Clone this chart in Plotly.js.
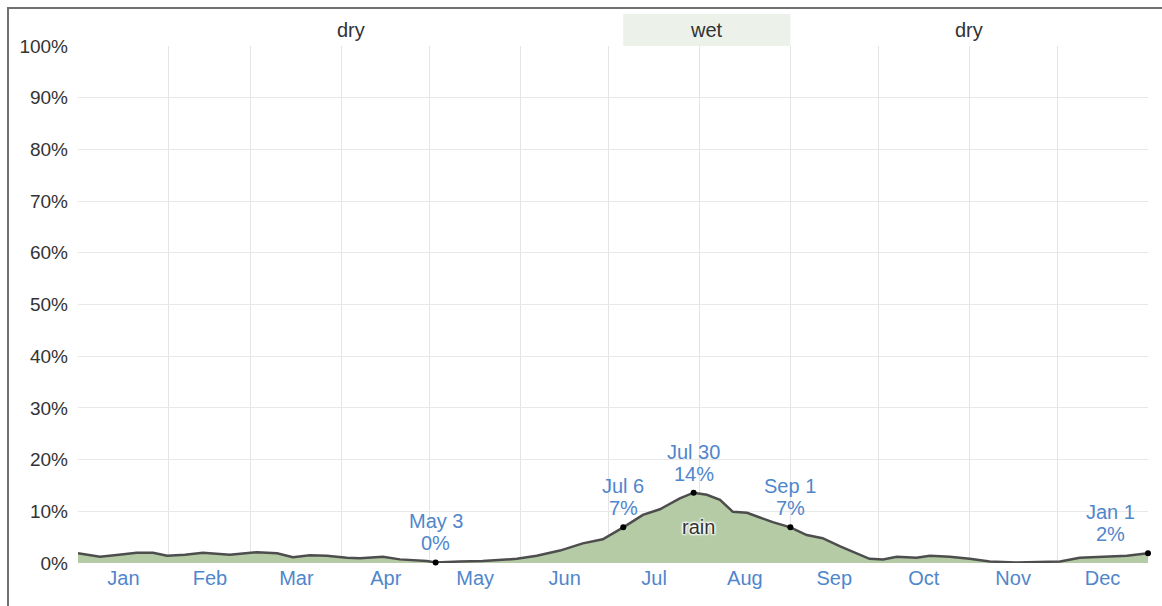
<!DOCTYPE html>
<html>
<head>
<meta charset="utf-8">
<script src="https://cdn.plot.ly/plotly-3.0.1.min.js"></script>
<style>
  html, body { margin: 0; padding: 0; background: #fff; }
  #wrap { position: relative; width: 1162px; height: 606px; }
  #chart { width: 1162px; height: 606px; }
  #frame { position: absolute; left: 7px; top: 7px; width: 1155px; height: 599px;
           border-left: 2px solid #707070; border-top: 2px solid #707070;
           box-sizing: border-box; pointer-events: none; }
</style>
</head>
<body>
<div id="wrap">
  <div id="chart"></div>
  <div id="frame"></div>
</div>
<script>
// Day of year (0 = Jan 1, 365 = Jan 1 next year) and chance of rain (%)
const days = [0, 7.5, 14, 20, 25.6, 30.4, 36.5, 42.6, 51.8, 61, 67.9, 73.3, 79.1, 84.9,
  91.7, 96.2, 104, 109.8, 119, 122, 130.3, 138, 149.7, 156.5, 164.4, 172.2, 179, 186,
  192.7, 198.5, 205.3, 210, 214.5, 219, 223.4, 228.2, 232.6, 237, 243, 248.6, 254, 260,
  270, 274.6, 279.3, 286, 290.6, 297.4, 304.2, 311, 320, 325.7, 335, 341.7, 348.6, 357.8, 365];
const rainPct = [1.9, 1.2, 1.6, 2.0, 2.0, 1.4, 1.6, 2.0, 1.6, 2.1, 1.9, 1.1, 1.5, 1.4,
  1.0, 0.9, 1.2, 0.7, 0.4, 0.1, 0.3, 0.4, 0.8, 1.4, 2.4, 3.8, 4.6, 6.9,
  9.3, 10.4, 12.5, 13.6, 13.2, 12.2, 9.9, 9.7, 8.8, 7.9, 6.9, 5.4, 4.8, 3.2,
  0.8, 0.7, 1.2, 1.0, 1.4, 1.2, 0.8, 0.3, 0.1, 0.2, 0.3, 1.0, 1.2, 1.4, 1.9];

// Highlighted points
const markDays = [122, 186, 210, 243, 365];
const markPct = [0.1, 6.9, 13.6, 6.9, 1.9];
const markDates = ["May 3", "Jul 6", "Jul 30", "Sep 1", "Jan 1"];
const markValues = ["0%", "7%", "14%", "7%", "2%"];

// Months
const monthNames = ["Jan","Feb","Mar","Apr","May","Jun","Jul","Aug","Sep","Oct","Nov","Dec"];
const monthStarts = [0, 31, 59, 90, 120, 151, 181, 212, 243, 273, 304, 334, 365];

// Seasons
const seasonNames = ["dry", "wet", "dry"];
const seasonStart = [0, 186, 243];
const seasonEnd = [186, 243, 365];

const monthMids = monthNames.map((m, i) => (monthStarts[i] + monthStarts[i + 1]) / 2);
const gridDays = monthStarts.slice(1, 12);

const FONT = 'Liberation Sans, Arial, sans-serif';
const labelBlue = '#5086cc';

const traces = [
  {
    x: days, y: rainPct, type: 'scatter', mode: 'lines',
    fill: 'tozeroy', fillcolor: '#b4cba6',
    line: { color: '#4d4d4d', width: 2.5 },
    hoverinfo: 'skip', cliponaxis: false
  },
  {
    x: markDays, y: markPct, type: 'scatter', mode: 'markers',
    marker: { color: '#000', size: 6 },
    hoverinfo: 'skip', cliponaxis: false
  }
];

const annotations = [];
markDays.forEach((d, i) => {
  const xs = (i === 4 ? -38 : 0);
  annotations.push({
    x: d, y: markPct[i], xref: 'x', yref: 'y',
    text: markValues[i], showarrow: false, xanchor: 'center', yanchor: 'bottom',
    yshift: 6, xshift: xs,
    font: { family: FONT, size: 20, color: labelBlue }
  });
  annotations.push({
    x: d, y: markPct[i], xref: 'x', yref: 'y',
    text: markDates[i], showarrow: false, xanchor: 'center', yanchor: 'bottom',
    yshift: 28, xshift: xs,
    font: { family: FONT, size: 20, color: labelBlue }
  });
});
seasonNames.forEach((s, i) => {
  annotations.push({
    x: (seasonStart[i] + seasonEnd[i]) / 2, y: 1.03, xref: 'x', yref: 'paper',
    text: s, showarrow: false, xanchor: 'center', yanchor: 'middle',
    font: { family: FONT, size: 20, color: '#333' }
  });
});
annotations.push({
  x: 211.5, y: 7, xref: 'x', yref: 'y', text: 'rain', showarrow: false,
  xanchor: 'center', yanchor: 'middle',
  font: { family: FONT, size: 20, color: '#333',
          shadow: '1px 1px 2px #fff, -1px -1px 2px #fff, 1px -1px 2px #fff, -1px 1px 2px #fff' }
});

const shapes = seasonNames.map((s, i) => s === 'wet' ? {
  type: 'rect', xref: 'x', yref: 'paper',
  x0: seasonStart[i], x1: seasonEnd[i], y0: 1.0, y1: 1.062,
  fillcolor: '#ecf1e9', line: { width: 0 }, layer: 'below'
} : null).filter(Boolean);

const layout = {
  width: 1162, height: 606,
  margin: { l: 78, r: 14, t: 46, b: 43 },
  paper_bgcolor: '#fff', plot_bgcolor: '#fff',
  showlegend: false,
  font: { family: FONT, size: 20, color: '#333' },
  xaxis: {
    range: [0, 365], tickmode: 'array', tickvals: monthMids, ticktext: monthNames,
    showgrid: false, zeroline: false, showline: false, ticks: '',
    tickfont: { family: FONT, size: 20, color: labelBlue },
    ticklabelstandoff: 1,
    minor: { tickmode: 'array', tickvals: gridDays, showgrid: true, gridcolor: '#e4e4e4', gridwidth: 1, ticks: '' },
    fixedrange: true
  },
  yaxis: {
    range: [0, 100], dtick: 10, ticksuffix: '%',
    showgrid: true, gridcolor: '#e8e8e8', gridwidth: 1,
    zeroline: false, showline: false, ticks: '',
    tickfont: { family: FONT, size: 19, color: '#333' },
    ticklabelstandoff: 9,
    fixedrange: true
  },
  shapes: shapes,
  annotations: annotations
};

Plotly.newPlot('chart', traces, layout, { displayModeBar: false, staticPlot: true });
</script>
</body>
</html>
